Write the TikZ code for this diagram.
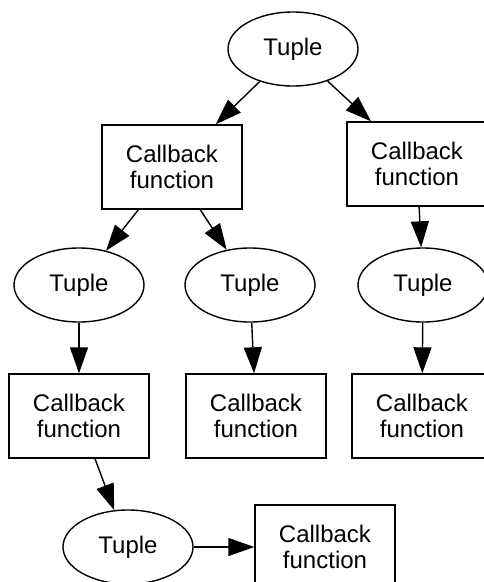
\documentclass[tikz,border=0pt]{standalone}
\usepackage{fontspec}
\setmainfont{Liberation Sans}
\usetikzlibrary{arrows.meta,shapes.geometric}
\begin{document}
\begin{tikzpicture}[x=1pt,y=-1pt,
  lbl/.style={font=\fontsize{24}{26.5}\selectfont},
  tup/.style={lbl,ellipse,draw,line width=1.4pt,minimum width=130pt,minimum height=74pt,inner sep=0pt},
  cb/.style={lbl,rectangle,draw,line width=1.4pt,minimum width=140pt,minimum height=84pt,inner sep=0pt,align=center},
  arr/.style={-{Triangle[length=26pt,width=18pt]},line width=1.4pt}]
\useasboundingbox (0,0) rectangle (484,582);
\clip (0,0) rectangle (484,582);

% tuples and the callbacks they feed
\node[tup] (t0) at (293,49) {Tuple};
\node[cb]  (c1) at (172,167) {Callback\\function};
\node[cb]  (c2) at (417,164) {Callback\\function};
\node[tup] (t1) at (79,285)  {Tuple};
\node[tup] (t2) at (250,285) {Tuple};
\node[tup] (t3) at (423,285) {Tuple};
\node[cb]  (c3) at (79,416)  {Callback\\function};
\node[cb]  (c4) at (256,416) {Callback\\function};
\node[cb]  (c5) at (422,416) {Callback\\function};
\node[tup] (t4) at (128,547) {Tuple};
\node[cb]  (c6) at (325,547) {Callback\\function};

\draw[arr] (t0) -- (c1);
\draw[arr] (t0) -- (c2);
\draw[arr] (c1) -- (t1);
\draw[arr] (c1) -- (t2);
\draw[arr] (c2) -- (t3);
\draw[arr] (t1) -- (c3);
\draw[arr] (t2) -- (c4);
\draw[arr] (t3) -- (c5);
\draw[arr] (c3) -- (t4);
\draw[arr] (t4) -- (c6);
\end{tikzpicture}
\end{document}
